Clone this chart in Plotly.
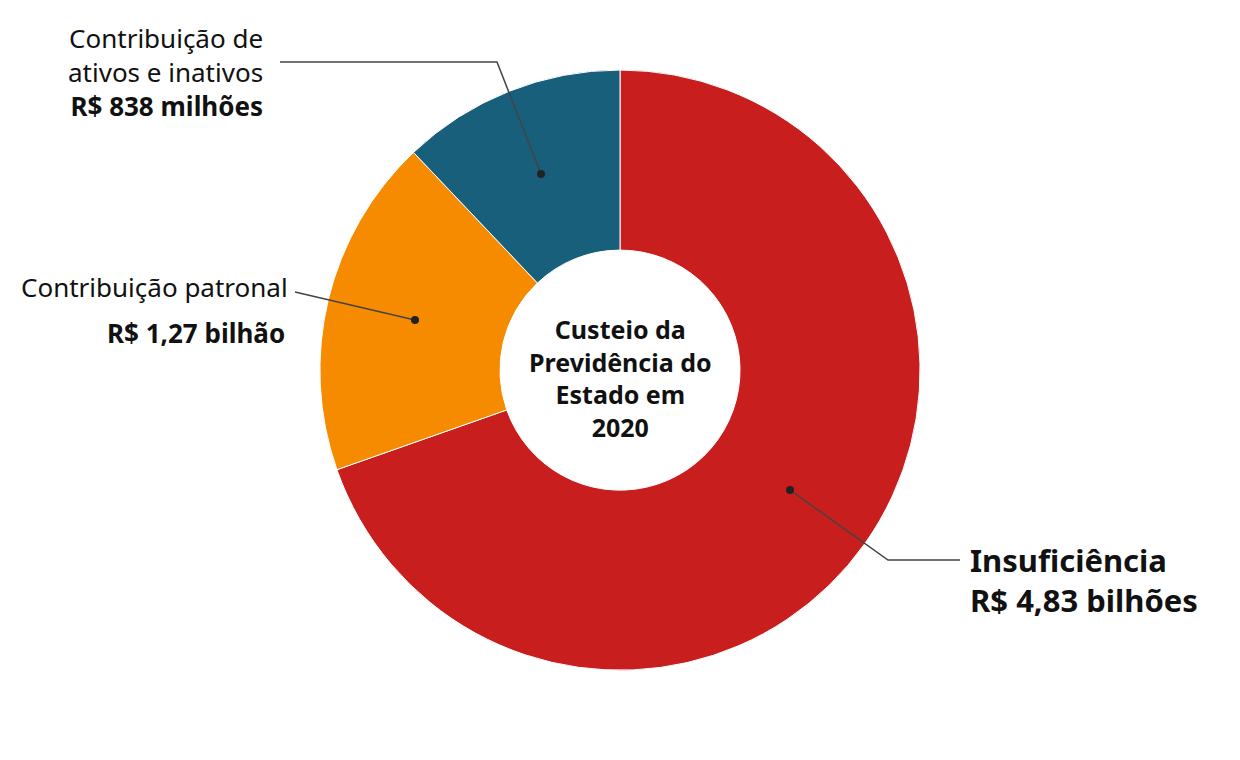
import plotly.graph_objects as go

labels = ["Insuficiência", "Contribuição patronal", "Contribuição de ativos e inativos"]
values = [4.83, 1.27, 0.838]
colors = ["#c81e1e", "#f78b00", "#175f7a"]

W, H = 1240, 760
OFF = 8  # browser body margin shifts the page


def px(x, y):
    return (x - OFF) / W, 1 - (y - OFF) / H


dx, dy = OFF / W, OFF / H
fig = go.Figure(go.Pie(
    labels=labels, values=values, hole=0.4, sort=False, direction="clockwise",
    rotation=0, marker=dict(colors=colors, line=dict(color="white", width=1)),
    textinfo="none", hoverinfo="label+value",
    domain=dict(x=[0.258 - dx, 0.742 - dx], y=[0.118 + dy, 0.908 + dy]),
))

font = "Noto Sans"
ann = []


def add(x, y, text, size, align, xanchor):
    xx, yy = px(x, y)
    ann.append(dict(x=xx, y=yy, xref="paper", yref="paper", text=text, showarrow=False,
                    align=align, xanchor=xanchor, yanchor="middle",
                    font=dict(family=font, size=size, color="#111")))


add(265, 72, "Contribuição de<br>ativos e inativos<br><b>R$ 838 milhões</b>", 26, "right", "right")
add(290, 287, "Contribuição patronal", 26, "right", "right")
add(287, 333, "<b>R$ 1,27 bilhão</b>", 26, "right", "right")
add(968, 580, "<b>Insuficiência</b><br><b>R$ 4,83 bilhões</b>", 31, "left", "left")
add(620, 378, "<b>Custeio da<br>Previdência do<br>Estado em<br>2020</b>", 25, "center", "center")

shapes = []
for pts in [[(280, 62), (497, 62), (541, 174)], [(295, 292), (415, 320)], [(790, 490), (888, 560), (960, 560)]]:
    path = "M " + " L ".join(f"{px(*p)[0]},{px(*p)[1]}" for p in pts)
    shapes.append(dict(type="path", path=path, xref="paper", yref="paper",
                       line=dict(color="#444", width=1.5)))
for p in [(541, 174), (415, 320), (790, 490)]:
    x, y = px(*p)
    shapes.append(dict(type="circle", xref="paper", yref="paper",
                       x0=x - 4 / W, x1=x + 4 / W, y0=y - 4 / H, y1=y + 4 / H,
                       fillcolor="#222", line=dict(width=0)))

fig.update_layout(width=W, height=H, margin=dict(l=0, r=0, t=0, b=0), showlegend=False,
                  paper_bgcolor="white", annotations=ann, shapes=shapes)
fig.write_html("out.html")
